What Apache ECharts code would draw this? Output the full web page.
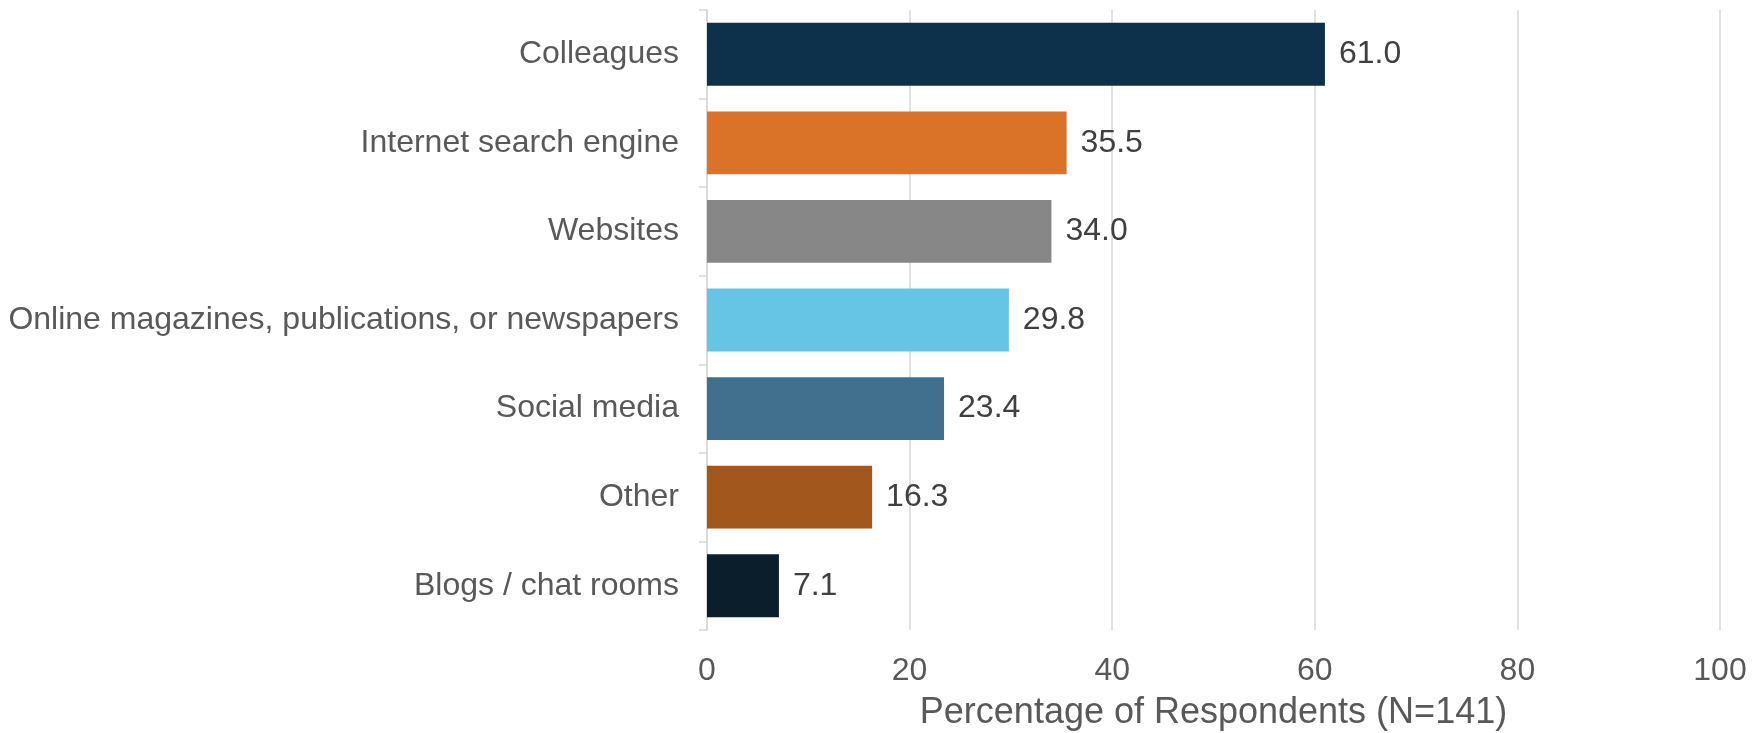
<!DOCTYPE html>
<html>
<head>
<meta charset="utf-8">
<script src="https://cdn.jsdelivr.net/npm/echarts@6/dist/echarts.min.js"></script>
<style>
  html, body { margin: 0; padding: 0; background: #ffffff; }
  #chart { width: 1763px; height: 733px; }
</style>
</head>
<body>
<div id="chart"></div>
<script>
// Sources of information, share of respondents (%)
const categories = [
  'Colleagues',
  'Internet search engine',
  'Websites',
  'Online magazines, publications, or newspapers',
  'Social media',
  'Other',
  'Blogs / chat rooms'
];
const values = [61.0, 35.5, 34.0, 29.8, 23.4, 16.3, 7.1];
const barColors = ['#0D304B', '#DA7327', '#878787', '#66C4E4', '#41708E', '#A2571C', '#0A1E2C'];
const xTicks = [0, 20, 40, 60, 80, 100];
const xTitle = 'Percentage of Respondents (N=141)';

const FONT = '"Liberation Sans", Arial, sans-serif';

const chart = echarts.init(document.getElementById('chart'), null, { renderer: 'canvas' });

chart.setOption({
  animation: false,
  backgroundColor: '#ffffff',
  grid: {
    left: 707, right: 43, top: 10, bottom: 103,
    containLabel: false,
    outerBoundsMode: 'none'
  },
  xAxis: {
    type: 'value',
    min: xTicks[0],
    max: xTicks[xTicks.length - 1],
    interval: xTicks[1] - xTicks[0],
    name: xTitle,
    nameLocation: 'middle',
    nameGap: 65,
    nameTextStyle: { fontFamily: FONT, fontSize: 36, color: '#595959' },
    axisLine: { show: false },
    axisTick: { show: false },
    axisLabel: { fontFamily: FONT, fontSize: 32, color: '#595959', margin: 25 },
    splitLine: { show: true, lineStyle: { color: '#d9d9d9', width: 1.5 } }
  },
  yAxis: {
    type: 'category',
    data: categories,
    inverse: true,
    axisLine: { show: true, lineStyle: { color: '#d9d9d9', width: 1.5 } },
    axisTick: { show: true, length: 8, lineStyle: { color: '#d9d9d9', width: 1.5 } },
    axisLabel: { fontFamily: FONT, fontSize: 32, color: '#595959', margin: 28 },
    splitLine: { show: false }
  },
  series: [{
    type: 'bar',
    data: values.map((v, i) => ({ value: v, itemStyle: { color: barColors[i] } })),
    barCategoryGap: '29%',
    label: {
      show: true,
      position: 'right',
      distance: 14,
      fontFamily: FONT,
      fontSize: 32,
      color: '#404040',
      formatter: p => p.value.toFixed(1)
    }
  }]
});
</script>
</body>
</html>
